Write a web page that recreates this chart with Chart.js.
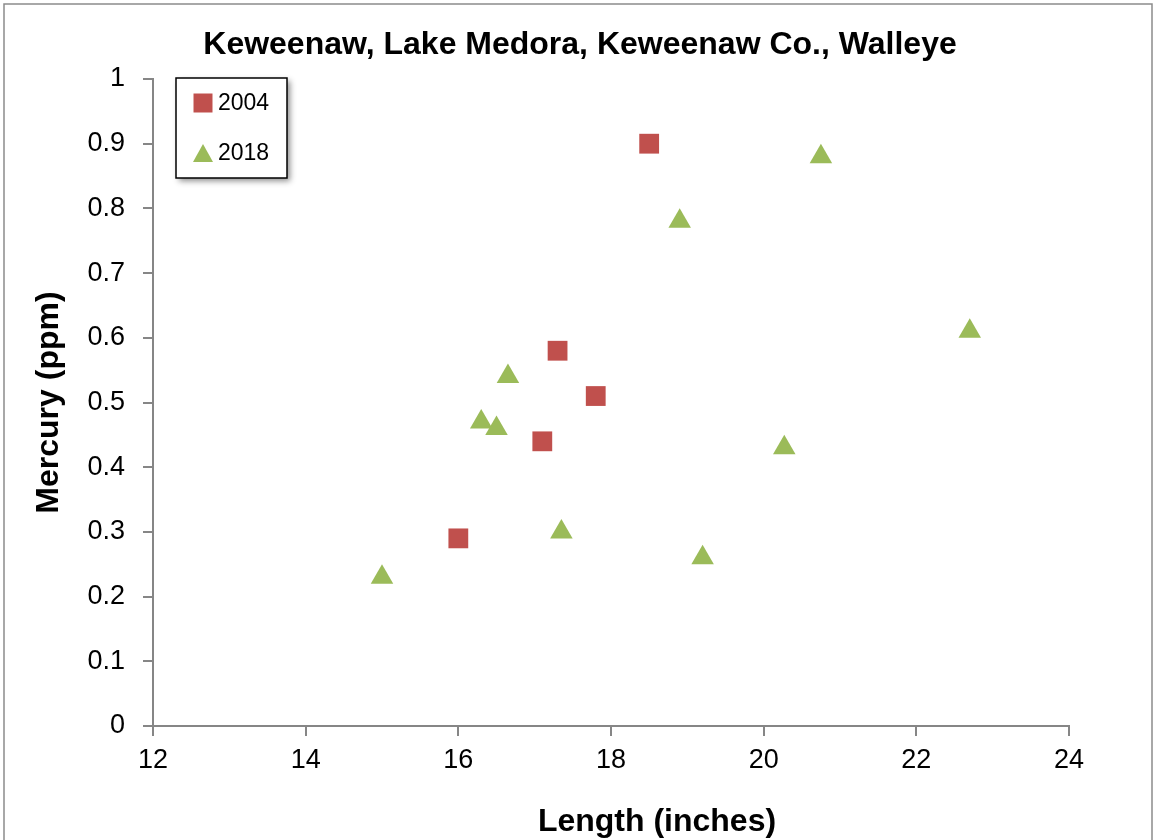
<!DOCTYPE html>
<html>
<head>
<meta charset="utf-8">
<title>Keweenaw, Lake Medora, Walleye</title>
<script src="https://cdn.jsdelivr.net/npm/chart.js@4.4.1/dist/chart.umd.min.js"></script>
<style>
  html, body { margin: 0; padding: 0; background: #fff; }
  #wrap { width: 1156px; height: 840px; position: relative; }
</style>
</head>
<body>
<div id="wrap"><canvas id="chart" width="1156" height="840"></canvas></div>
<script>
// data
const chartTitle = "Keweenaw, Lake Medora, Keweenaw Co., Walleye";
const seriesNames = ["2004", "2018"];
const length2004 = [18.5, 17.3, 17.8, 17.1, 16.0];
const mercury2004 = [0.90, 0.58, 0.51, 0.44, 0.29];
const length2018 = [15.0, 16.3, 16.5, 16.65, 17.35, 18.9, 19.2, 20.27, 20.75, 22.7];
const mercury2018 = [0.23, 0.47, 0.46, 0.54, 0.30, 0.78, 0.26, 0.43, 0.88, 0.61];
const xTicks = [12, 14, 16, 18, 20, 22, 24];
const yTicks = [0, 0.1, 0.2, 0.3, 0.4, 0.5, 0.6, 0.7, 0.8, 0.9, 1];

const FONT = "'Liberation Sans', Arial, sans-serif";
const AXIS = "#868686";

function toPoints(xs, ys) {
    return xs.map((x, i) => ({ x: x, y: ys[i] }));
}

// outer frame of the picture
const framePlugin = {
    id: "frame",
    beforeDraw(chart) {
        const ctx = chart.ctx;
        ctx.save();
        ctx.strokeStyle = "#8c8c8c";
        ctx.lineWidth = 1.5;
        ctx.beginPath();
        ctx.moveTo(4, 850);
        ctx.lineTo(4, 4);
        ctx.lineTo(1152, 4);
        ctx.lineTo(1152, 850);
        ctx.stroke();
        ctx.restore();
    }
};

// title is centred on the whole picture and the x title sits off centre,
// so both are drawn here
const textPlugin = {
    id: "texts",
    afterDraw(chart) {
        const ctx = chart.ctx;
        ctx.save();
        ctx.font = "bold 32px " + FONT;
        ctx.fillStyle = "#000";
        ctx.textAlign = "center";
        ctx.textBaseline = "middle";
        ctx.fillText(chartTitle, 580, 45);
        ctx.fillText("Length (inches)", 657, 822);
        ctx.restore();
    }
};

// boxed legend inside the plot, with a drop shadow
const boxLegendPlugin = {
    id: "boxLegend",
    afterDraw(chart) {
        const ctx = chart.ctx;
        const bx = 176, by = 78, bw = 111, bh = 100;
        ctx.save();
        ctx.shadowColor = "rgba(0,0,0,0.45)";
        ctx.shadowBlur = 6;
        ctx.shadowOffsetX = 3;
        ctx.shadowOffsetY = 3;
        ctx.fillStyle = "#fff";
        ctx.fillRect(bx, by, bw, bh);
        ctx.shadowColor = "transparent";
        ctx.strokeStyle = "#000";
        ctx.lineWidth = 1.5;
        ctx.strokeRect(bx, by, bw, bh);

        chart.data.datasets.forEach((ds, i) => {
            const cy = 103 + i * 50;
            const cx = 203;
            ctx.fillStyle = ds.backgroundColor;
            ctx.beginPath();
            if (ds.pointStyle === "rect") {
                ctx.rect(cx - 9.5, cy - 9.5, 19, 19);
            } else {
                ctx.moveTo(cx, cy - 9);
                ctx.lineTo(cx + 10, cy + 9);
                ctx.lineTo(cx - 10, cy + 9);
                ctx.closePath();
            }
            ctx.fill();
            ctx.fillStyle = "#000";
            ctx.font = "23px " + FONT;
            ctx.textAlign = "left";
            ctx.textBaseline = "middle";
            ctx.fillText(ds.label, 218, cy + 1);
        });
        ctx.restore();
    }
};

new Chart(document.getElementById("chart"), {
    type: "scatter",
    data: {
        datasets: [
            {
                label: seriesNames[0],
                data: toPoints(length2004, mercury2004),
                pointStyle: "rect",
                pointRadius: 14,
                pointHoverRadius: 14,
                backgroundColor: "#C0504D",
                borderColor: "#C0504D",
                borderWidth: 0
            },
            {
                label: seriesNames[1],
                data: toPoints(length2018, mercury2018),
                pointStyle: "triangle",
                pointRadius: 13,
                pointHoverRadius: 13,
                backgroundColor: "#9BBB59",
                borderColor: "#9BBB59",
                borderWidth: 0
            }
        ]
    },
    options: {
        responsive: false,
        animation: false,
        layout: { padding: { left: 0, right: 87, top: 79, bottom: 0 } },
        plugins: {
            legend: { display: false },
            tooltip: { enabled: false },
            title: { display: false }
        },
        scales: {
            x: {
                type: "linear",
                min: 12,
                max: 24,
                afterFit: s => { s.height = 114; },
                afterBuildTicks: s => { s.ticks = xTicks.map(v => ({ value: v })); },
                grid: { drawOnChartArea: false, drawTicks: true, tickLength: 10, color: AXIS, lineWidth: 2 },
                border: { color: AXIS, width: 2 },
                ticks: { color: "#000", padding: 8, font: { family: FONT, size: 27 }, callback: v => String(v) }
            },
            y: {
                min: 0,
                max: 1,
                afterFit: s => { s.width = 153; },
                afterBuildTicks: s => { s.ticks = yTicks.map(v => ({ value: v })); },
                grid: { drawOnChartArea: false, drawTicks: true, tickLength: 10, color: AXIS, lineWidth: 2 },
                border: { color: AXIS, width: 2 },
                ticks: { color: "#000", padding: 18, font: { family: FONT, size: 27 }, callback: v => String(v) },
                title: {
                    display: true,
                    text: "Mercury (ppm)",
                    color: "#000",
                    font: { family: FONT, size: 32, weight: "bold" },
                    padding: { top: 30, bottom: 0 }
                }
            }
        }
    },
    plugins: [framePlugin, textPlugin, boxLegendPlugin]
});
</script>
</body>
</html>
